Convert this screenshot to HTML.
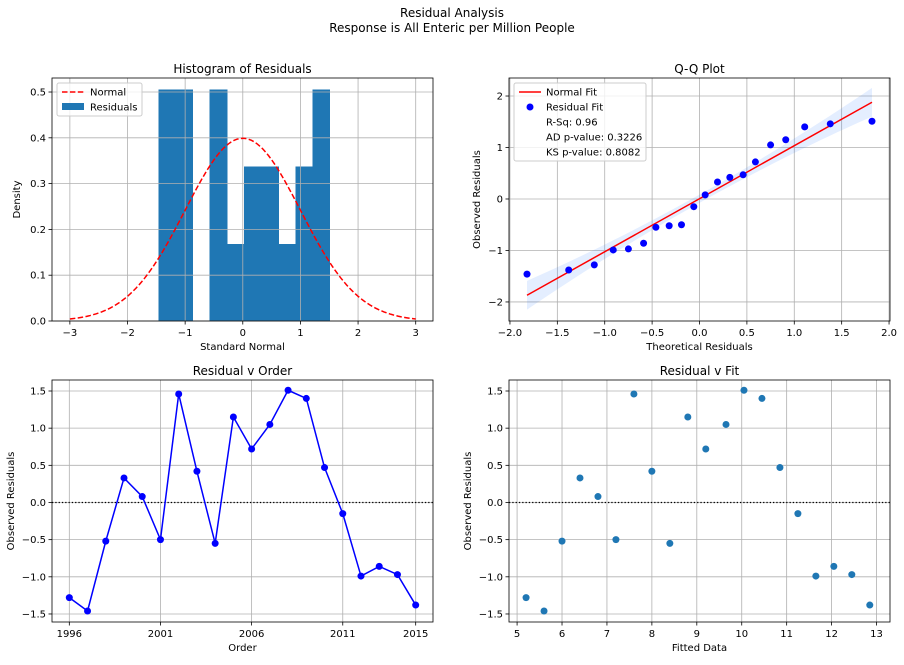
<!DOCTYPE html>
<html><head><meta charset="utf-8"><style>
body{margin:0;background:#fff;font-family:"Liberation Sans","DejaVu Sans",sans-serif}
svg text{font-family:"DejaVu Sans","Liberation Sans",sans-serif}
</style></head><body>
<svg id="c" width="904" height="660" xmlns="http://www.w3.org/2000/svg">
<text x="452" y="17" text-anchor="middle" font-size="12">Residual Analysis</text>
<text x="452" y="32" text-anchor="middle" font-size="12">Response is All Enteric per Million People</text>
</svg>
<script>
const years=[1996,1997,1998,1999,2000,2001,2002,2003,2004,2005,2006,2007,2008,2009,2010,2011,2012,2013,2014,2015];
const residuals=[-1.28,-1.46,-0.52,0.33,0.08,-0.5,1.46,0.42,-0.55,1.15,0.72,1.05,1.51,1.40,0.47,-0.15,-0.99,-0.86,-0.97,-1.38];
const fitted=[5.2,5.6,6.0,6.4,6.8,7.2,7.6,8.0,8.4,8.8,9.2,9.65,10.05,10.45,10.85,11.25,11.65,12.05,12.45,12.85];
const histEdges=[-1.46,-1.163,-0.866,-0.569,-0.272,0.025,0.322,0.619,0.916,1.213,1.51];
const histHeights=[0.505,0.505,0,0.505,0.168,0.337,0.337,0.168,0.337,0.505];
const qqTheoretical=[-1.82,-1.38,-1.11,-0.91,-0.75,-0.59,-0.46,-0.32,-0.19,-0.06,0.06,0.19,0.32,0.46,0.59,0.75,0.91,1.11,1.38,1.82];
const qqObserved=[-1.46,-1.38,-1.28,-0.99,-0.97,-0.86,-0.55,-0.52,-0.50,-0.15,0.08,0.33,0.42,0.47,0.72,1.05,1.15,1.40,1.46,1.51];
const qqFitSlope=1.03, qqFitIntercept=0.005;
const histXTicks=[-3,-2,-1,0,1,2,3];
const histYTicks=[0,0.1,0.2,0.3,0.4,0.5];
const qqXTicks=[-2.0,-1.5,-1.0,-0.5,0.0,0.5,1.0,1.5,2.0];
const qqYTicks=[-2,-1,0,1,2];
const orderXTicks=[1996,2001,2006,2011,2015];
const resYTicks=[-1.5,-1.0,-0.5,0.0,0.5,1.0,1.5];
const fitXTicks=[5,6,7,8,9,10,11,12,13];

const svg=document.getElementById('c');
const NS='http://www.w3.org/2000/svg';
function mk(tag,at,parent){const e=document.createElementNS(NS,tag);for(const k in at)e.setAttribute(k,at[k]);(parent||svg).appendChild(e);return e;}
function txt(x,y,s,size,anchor,parent,rot){const t=mk('text',{x:x,y:y,'font-size':size,'text-anchor':anchor||'middle',fill:'#000'},parent);if(rot)t.setAttribute('transform','rotate(-90 '+x+' '+y+')');t.textContent=s;return t;}

function axes(name,L,T,R,B,xmin,xmax,ymin,ymax){
  const g=mk('g',{});
  
  
  const sx=v=>L+(v-xmin)/(xmax-xmin)*(R-L);
  const sy=v=>B-(v-ymin)/(ymax-ymin)*(B-T);
  return {g,sx,sy,L,T,R,B};
}
function decorate(a,xt,yt){
  const gr=mk('g',{stroke:'#b0b0b0','stroke-width':0.8},a.g);
  
  
  xt.forEach(v=>mk('line',{x1:a.sx(v),x2:a.sx(v),y1:a.T,y2:a.B},gr));
  yt.forEach(v=>mk('line',{x1:a.L,x2:a.R,y1:a.sy(v),y2:a.sy(v)},gr));
  return gr;
}
function frame(a,xt,yt,fmtX,fmtY,title,xl,yl,ylx){
  mk('rect',{x:a.L,y:a.T,width:a.R-a.L,height:a.B-a.T,fill:'none',stroke:'#000','stroke-width':0.8},a.g);
  xt.forEach(v=>{mk('line',{x1:a.sx(v),x2:a.sx(v),y1:a.B,y2:a.B+3.5,stroke:'#000','stroke-width':0.8},a.g);
    const t=txt(a.sx(v),a.B+15,fmtX(v),10,'middle',a.g);});
  yt.forEach(v=>{mk('line',{x1:a.L-3.5,x2:a.L,y1:a.sy(v),y2:a.sy(v),stroke:'#000','stroke-width':0.8},a.g);
    const t=txt(a.L-6,a.sy(v)+3.5,fmtY(v),10,'end',a.g);});
  const tt=txt((a.L+a.R)/2,a.T-5,title,12,'middle',a.g);
  const xa=txt((a.L+a.R)/2,a.B+29,xl,10,'middle',a.g);
  const ya=txt(ylx,(a.T+a.B)/2,yl,10,'middle',a.g,true);
}
const f1=v=>v.toFixed(1), f0=v=>String(v);
const fm=s=>s.replace('-','\u2212');

// Histogram
const h=axes('histogram-of-residuals',52,78,433,321,-3.31,3.3,0,0.5306);
histHeights.forEach((v,i)=>{if(v<=0)return;const r=mk('rect',{x:h.sx(histEdges[i])-0.3,y:h.sy(v),width:h.sx(histEdges[i+1])-h.sx(histEdges[i])+0.6,height:h.sy(0)-h.sy(v),fill:'#1f77b4','shape-rendering':'crispEdges'},h.g);
  });
decorate(h,histXTicks,histYTicks);
let pts=[];for(let i=0;i<=120;i++){const x=-3+i*0.05;pts.push(h.sx(x)+','+h.sy(Math.exp(-x*x/2)/Math.sqrt(2*Math.PI)));}
const nc=mk('polyline',{points:pts.join(' '),fill:'none',stroke:'#ff0000','stroke-width':1.5,'stroke-dasharray':'5.5,2.4'},h.g);

frame(h,histXTicks,histYTicks,v=>fm(f0(v)),v=>f1(v),'Histogram of Residuals','Standard Normal','Density',20);
{const lg=mk('g',{},h.g);
mk('rect',{x:57,y:83,width:85,height:33,rx:2,fill:'#fff','fill-opacity':0.8,stroke:'#ccc'},lg);
mk('line',{x1:62,x2:84,y1:92,y2:92,stroke:'#f00','stroke-width':1.5,'stroke-dasharray':'5.5,2.4'},lg);
txt(90,95.5,'Normal',10,'start',lg);
mk('rect',{x:62,y:103,width:22,height:7,fill:'#1f77b4'},lg);
txt(90,110.5,'Residuals',10,'start',lg);}

// QQ
const q=axes('qq-plot',509,78,890,321,-2.01,2.01,-2.37,2.35);
decorate(q,qqXTicks,qqYTicks);
let up=[],lo=[];for(let i=0;i<=40;i++){const x=-1.82+i*3.64/40;const y=qqFitSlope*x+qqFitIntercept;const w=0.08+0.06*x*x;up.push(q.sx(x)+','+q.sy(y+w));lo.unshift(q.sx(x)+','+q.sy(y-w));}
const band=mk('polygon',{points:up.concat(lo).join(' '),fill:'#1f77ff','fill-opacity':0.12},q.g);

const x0=qqTheoretical[0],x1=qqTheoretical[qqTheoretical.length-1];
const fl=mk('line',{x1:q.sx(x0),y1:q.sy(qqFitSlope*x0+qqFitIntercept),x2:q.sx(x1),y2:q.sy(qqFitSlope*x1+qqFitIntercept),stroke:'#f00','stroke-width':1.5},q.g);

qqTheoretical.forEach((x,i)=>{const c=mk('circle',{cx:q.sx(x),cy:q.sy(qqObserved[i]),r:3.5,fill:'#0000ff'},q.g);
  });
frame(q,qqXTicks,qqYTicks,v=>fm(f1(v)),v=>fm(f0(v)),'Q-Q Plot','Theoretical Residuals','Observed Residuals',480);
{const lg=mk('g',{},q.g);
mk('rect',{x:514,y:83,width:132,height:78,rx:2,fill:'#fff','fill-opacity':0.8,stroke:'#ccc'},lg);
mk('line',{x1:519,x2:541,y1:92,y2:92,stroke:'#f00','stroke-width':1.5},lg);
txt(546,95.5,'Normal Fit',10,'start',lg);
mk('circle',{cx:530,cy:107,r:3.5,fill:'#00f'},lg);
txt(546,110.5,'Residual Fit',10,'start',lg);
txt(546,125.5,'R-Sq: 0.96',10,'start',lg);
txt(546,140.5,'AD p-value: 0.3226',10,'start',lg);
txt(546,155.5,'KS p-value: 0.8082',10,'start',lg);}

// Order
const o=axes('residual-v-order',52,380,433,622,1995.05,2015.95,-1.608,1.648);
decorate(o,orderXTicks,resYTicks);
mk('line',{x1:o.L,x2:o.R,y1:o.sy(0),y2:o.sy(0),stroke:'#000','stroke-width':1.3,'stroke-dasharray':'1.3,2'},o.g);
const ol=mk('polyline',{points:years.map((y,i)=>o.sx(y)+','+o.sy(residuals[i])).join(' '),fill:'none',stroke:'#0000ff','stroke-width':1.5},o.g);

years.forEach((y,i)=>{const c=mk('circle',{cx:o.sx(y),cy:o.sy(residuals[i]),r:3.5,fill:'#0000ff'},o.g);
  });
frame(o,orderXTicks,resYTicks,f0,v=>fm(f1(v)),'Residual v Order','Order','Observed Residuals',14);

// Fit
const r=axes('residual-v-fit',509,380,890,622,4.82,13.3,-1.608,1.648);
decorate(r,fitXTicks,resYTicks);
mk('line',{x1:r.L,x2:r.R,y1:r.sy(0),y2:r.sy(0),stroke:'#000','stroke-width':1.3,'stroke-dasharray':'1.3,2'},r.g);
fitted.forEach((x,i)=>{const c=mk('circle',{cx:r.sx(x),cy:r.sy(residuals[i]),r:3.5,fill:'#1f77b4'},r.g);
  });
frame(r,fitXTicks,resYTicks,f0,v=>fm(f1(v)),'Residual v Fit','Fitted Data','Observed Residuals',471);
</script>
</body></html>
